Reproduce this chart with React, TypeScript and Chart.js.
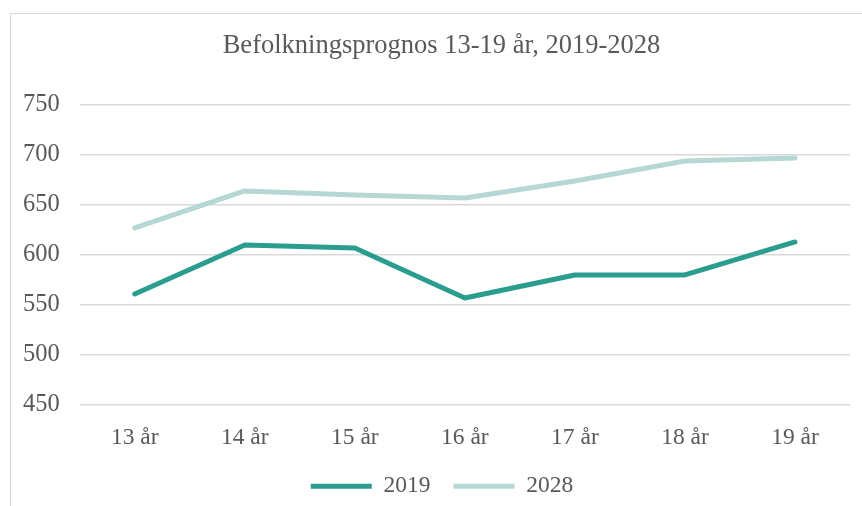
import React, { useEffect, useRef } from "react";
import { Chart, registerables } from "chart.js";

Chart.register(...registerables);

const categories = ["13 år", "14 år", "15 år", "16 år", "17 år", "18 år", "19 år"];
const series2019 = [561, 610, 607, 557, 580, 580, 613];
const series2028 = [627, 664, 660, 657, 674, 694, 697];
const yTicks = [450, 500, 550, 600, 650, 700, 750];
const titleText = "Befolkningsprognos 13-19 år, 2019-2028";

const FONT = "'Liberation Serif', 'Times New Roman', serif";
const TEXT = "#595959";

const LEGEND_DX = 15.5;
const LEGEND_DY = -0.6;
const TITLE_DX = 15;

const blockShift = {
  id: "blockShift",
  afterLayout(chart: any) {
    const lg = chart.legend;
    if (lg) {
      lg.left += LEGEND_DX;
      lg.right += LEGEND_DX;
      lg.top += LEGEND_DY;
      lg.bottom += LEGEND_DY;
    }
    const tb = chart.titleBlock;
    if (tb) {
      tb.left += TITLE_DX;
      tb.right += TITLE_DX;
    }
  },
};

export default function App() {
  const ref = useRef<HTMLCanvasElement | null>(null);

  useEffect(() => {
    if (!ref.current) return;
    const chart = new Chart(ref.current, {
      type: "line",
      data: {
        labels: categories,
        datasets: [
          {
            label: "2019",
            data: series2019,
            borderColor: "#2a9d8f",
            backgroundColor: "#2a9d8f",
            borderWidth: 5,
            borderCapStyle: "round",
            borderJoinStyle: "round",
            pointRadius: 0,
            tension: 0,
          },
          {
            label: "2028",
            data: series2028,
            borderColor: "#b6d8d3",
            backgroundColor: "#b6d8d3",
            borderWidth: 5,
            borderCapStyle: "round",
            borderJoinStyle: "round",
            pointRadius: 0,
            tension: 0,
          },
        ],
      },
      plugins: [blockShift],
      options: {
        responsive: false,
        animation: false,
        layout: { padding: { left: 3, right: 12, top: 16, bottom: -2.6 } },
        plugins: {
          title: {
            display: true,
            text: titleText,
            color: TEXT,
            font: { family: FONT, size: 26.5, weight: "normal" },
            padding: { top: 14, bottom: 43.2 },
          },
          legend: {
            position: "bottom",
            labels: {
              usePointStyle: true,
              pointStyle: "line",
              pointStyleWidth: 61,
              color: TEXT,
              font: { family: FONT, size: 23.5 },
              padding: 23,
            },
          },
          tooltip: { enabled: false },
        },
        scales: {
          x: {
            offset: true,
            grid: { display: false, drawTicks: false },
            border: { display: false },
            ticks: { color: TEXT, font: { family: FONT, size: 23.5 }, padding: 19 },
            afterFit: (scale: any) => {
              scale.height = 47.2;
            },
          },
          y: {
            min: yTicks[0],
            max: yTicks[yTicks.length - 1],
            afterBuildTicks: (axis: any) => {
              axis.ticks = yTicks.map((v) => ({ value: v }));
            },
            grid: { color: "#d9d9d9", lineWidth: 1.5, drawTicks: false },
            border: { display: false },
            ticks: { color: TEXT, font: { family: FONT, size: 24.5 }, padding: 20 },
          },
        },
      },
    });
    return () => chart.destroy();
  }, []);

  return (
    <div style={{ position: "fixed", left: 0, top: 0, width: 862, height: 506, background: "#fff", overflow: "hidden" }}>
      <div
        style={{
          position: "absolute",
          left: 10,
          top: 13,
          width: 870,
          height: 520,
          border: "1.5px solid #d9d9d9",
          boxSizing: "border-box",
        }}
      />
      <canvas ref={ref} width={862} height={506} style={{ position: "absolute", left: 0, top: 0 }} />
    </div>
  );
}
